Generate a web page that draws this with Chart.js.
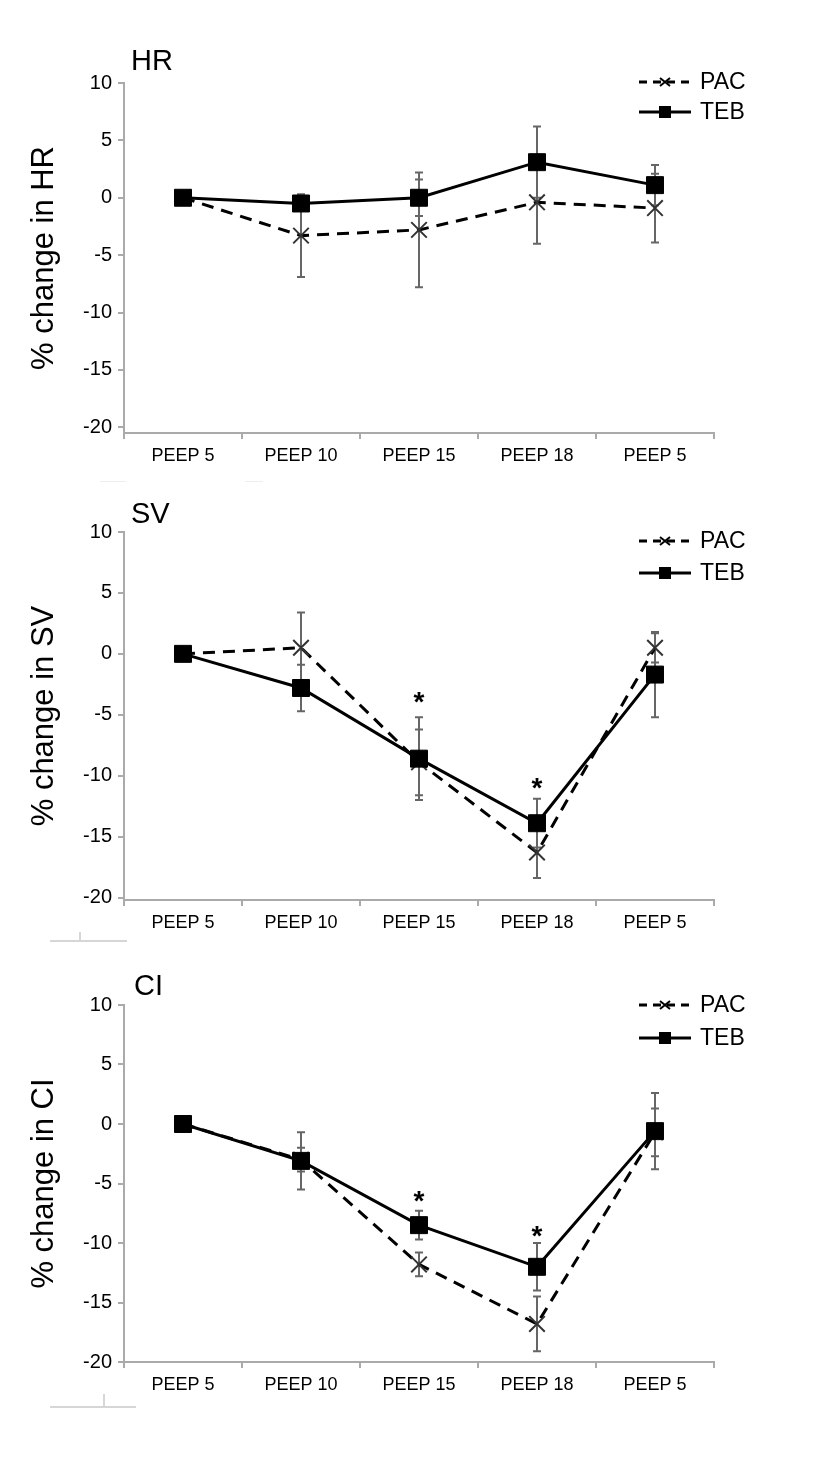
<!DOCTYPE html>
<html><head><meta charset="utf-8">
<script src="https://cdn.jsdelivr.net/npm/chart.js@4.4.1/dist/chart.umd.min.js"></script>
<style>
html,body{margin:0;padding:0;background:#fff;}
body{width:827px;height:1465px;position:relative;overflow:hidden;font-family:"Liberation Sans",Arial,sans-serif;}
.wrap{position:absolute;left:0;width:827px;}
.ttl{position:absolute;font-size:29px;line-height:1;color:#000;}
.art{position:absolute;background:#d6d6d6;}
</style></head><body>
<div class="wrap" style="top:0;height:480px"><canvas id="c1" width="827" height="480"></canvas></div>
<div class="wrap" style="top:470px;height:480px"><canvas id="c2" width="827" height="480"></canvas></div>
<div class="wrap" style="top:940px;height:480px"><canvas id="c3" width="827" height="480"></canvas></div>
<div class="ttl" style="left:131px;top:46px">HR</div>
<div class="ttl" style="left:131px;top:499px">SV</div>
<div class="ttl" style="left:134px;top:971px">CI</div>
<div class="art" style="left:100px;top:481px;width:26px;height:1px;background:#eee"></div>
<div class="art" style="left:245px;top:481px;width:18px;height:1px;background:#eee"></div>
<div class="art" style="left:50px;top:940px;width:77px;height:2px"></div>
<div class="art" style="left:79px;top:932px;width:2px;height:9px"></div>
<div class="art" style="left:50px;top:1406px;width:86px;height:2px"></div>
<div class="art" style="left:103px;top:1394px;width:2px;height:13px"></div>
<script>
// ---------- data ----------
const categories = ['PEEP 5', 'PEEP 10', 'PEEP 15', 'PEEP 18', 'PEEP 5'];
const seriesNames = ['PAC', 'TEB'];
const yTicks = [10, 5, 0, -5, -10, -15, -20];

const hrPAC    = [0, -3.3, -2.8, -0.4, -0.9];
const hrPACerr = [0, 3.6, 5.0, 3.6, 3.0];
const hrTEB    = [0, -0.5, 0.0, 3.1, 1.1];
const hrTEBerr = [0, 0.5, 1.6, 3.1, 1.75];
const hrStar   = [null, null, null, null, null];

const svPAC    = [0, 0.5, -8.9, -16.3, 0.5];
const svPACerr = [0, 2.9, 2.7, 2.1, 1.2];
const svTEB    = [0, -2.8, -8.6, -13.9, -1.7];
const svTEBerr = [0, 1.9, 3.4, 2.0, 3.5];
const svStar   = [null, null, -3.5, -10.5, null];

const ciPAC    = [0, -3.0, -11.8, -16.8, -0.7];
const ciPACerr = [0, 1.0, 1.0, 2.3, 2.0];
const ciTEB    = [0, -3.1, -8.5, -12.0, -0.6];
const ciTEBerr = [0, 2.4, 1.2, 2.0, 3.2];
const ciStar   = [null, null, -6.0, -8.9, null];

// ---------- helpers ----------
const FONT = '"Liberation Sans", Arial, sans-serif';
const AXIS = '#aaaaaa';

const errorBarPlugin = {
  id: 'errorBars',
  beforeDatasetsDraw(chart, args, opts) {
    const ctx = chart.ctx, ys = chart.scales.y;
    ctx.save();
    ctx.strokeStyle = '#666';
    ctx.lineWidth = 2;
    chart.data.datasets.forEach((ds, di) => {
      const meta = chart.getDatasetMeta(di);
      (ds.errors || []).forEach((e, i) => {
        if (!e) return;
        const x = meta.data[i].x;
        const yt = ys.getPixelForValue(ds.data[i] + e);
        const yb = ys.getPixelForValue(ds.data[i] - e);
        ctx.beginPath();
        ctx.moveTo(x, yt); ctx.lineTo(x, yb);
        ctx.moveTo(x - 4, yt); ctx.lineTo(x + 4, yt);
        ctx.moveTo(x - 4, yb); ctx.lineTo(x + 4, yb);
        ctx.stroke();
      });
    });
    ctx.restore();
  },
  afterDatasetsDraw(chart, args, opts) {
    const ctx = chart.ctx, ys = chart.scales.y, xs = chart.scales.x;
    const stars = opts.stars || [];
    ctx.save();
    ctx.fillStyle = '#000';
    ctx.font = 'bold 28px ' + FONT;
    ctx.textAlign = 'center';
    ctx.textBaseline = 'middle';
    stars.forEach((v, i) => {
      if (v === null) return;
      ctx.fillText('*', xs.getPixelForValue(i), ys.getPixelForValue(v) + 7);
    });
    // legend
    const top = chart.chartArea.top;
    const lx0 = 639, lx1 = 691, tx = 700;
    const rows = opts.legendRows;
    ctx.font = '23px ' + FONT;
    ctx.textAlign = 'left';
    // PAC
    let y = top + rows[0];
    ctx.strokeStyle = '#000'; ctx.lineWidth = 3;
    ctx.setLineDash([8, 6]);
    ctx.beginPath(); ctx.moveTo(lx0, y); ctx.lineTo(lx1, y); ctx.stroke();
    ctx.setLineDash([]);
    ctx.lineWidth = 2;
    const mx = (lx0 + lx1) / 2;
    ctx.beginPath();
    ctx.moveTo(mx - 5, y - 4); ctx.lineTo(mx + 5, y + 4);
    ctx.moveTo(mx + 5, y - 4); ctx.lineTo(mx - 5, y + 4);
    ctx.stroke();
    ctx.fillText(seriesNames[0], tx, y + 1);
    // TEB
    y = top + rows[1];
    ctx.lineWidth = 3;
    ctx.beginPath(); ctx.moveTo(lx0, y); ctx.lineTo(lx1, y); ctx.stroke();
    ctx.fillRect(mx - 6, y - 6, 12, 12);
    ctx.fillText(seriesNames[1], tx, y + 1);
    ctx.restore();
  }
};

function makeChart(id, pac, pacErr, teb, tebErr, stars, label, yMin, pad, legendRows) {
  return new Chart(document.getElementById(id), {
    type: 'line',
    data: {
      labels: categories,
      datasets: [
        {
          label: seriesNames[0], data: pac, errors: pacErr, order: 1,
          borderColor: '#000', borderWidth: 3, borderDash: [12, 8],
          pointStyle: 'crossRot', pointRadius: 11, pointBorderWidth: 2,
          pointBorderColor: '#333', pointBackgroundColor: '#333',
          fill: false, tension: 0
        },
        {
          label: seriesNames[1], data: teb, errors: tebErr, order: 0,
          borderColor: '#000', borderWidth: 3,
          pointStyle: 'rect', pointRadius: 12, pointBorderWidth: 1,
          pointBorderColor: '#000', pointBackgroundColor: '#000',
          fill: false, tension: 0
        }
      ]
    },
    options: {
      responsive: false,
      animation: false,
      devicePixelRatio: 1,
      layout: { padding: { left: 0, right: 113, top: pad[0], bottom: pad[1] } },
      plugins: {
        legend: { display: false },
        tooltip: { enabled: false },
        title: { display: false },
        errorBars: { stars: stars, legendRows: legendRows }
      },
      scales: {
        x: {
          type: 'category',
          offset: true,
          grid: { display: true, drawOnChartArea: false, offset: true, tickLength: 6, color: AXIS, lineWidth: 2 },
          border: { display: true, color: AXIS, width: 2 },
          ticks: { color: '#000', font: { size: 18, family: FONT }, padding: 6, maxRotation: 0, autoSkip: false },
          afterFit(s) { s.height = 40; }
        },
        y: {
          min: yMin, max: 10,
          ticks: { stepSize: 5, color: '#000', font: { size: 20, family: FONT }, padding: 6 },
          afterBuildTicks(s) { s.ticks = yTicks.map(v => ({ value: v })); },
          grid: { display: true, drawOnChartArea: false, tickLength: 6, color: AXIS, lineWidth: 2 },
          border: { display: true, color: AXIS, width: 2 },
          title: { display: true, text: label, color: '#000', font: { size: 31, family: FONT }, padding: { top: 26, bottom: 0 } },
          afterFit(s) { s.width = 124; }
        }
      }
    },
    plugins: [errorBarPlugin]
  });
}

makeChart('c1', hrPAC, hrPACerr, hrTEB, hrTEBerr, hrStar, '% change in HR', -20.5, [83, 7], [-1, 29]);
makeChart('c2', svPAC, svPACerr, svTEB, svTEBerr, svStar, '% change in SV', -20.2, [62, 10], [9, 41]);
makeChart('c3', ciPAC, ciPACerr, ciTEB, ciTEBerr, ciStar, '% change in CI', -20, [65, 18], [0, 33]);
</script>
</body></html>
